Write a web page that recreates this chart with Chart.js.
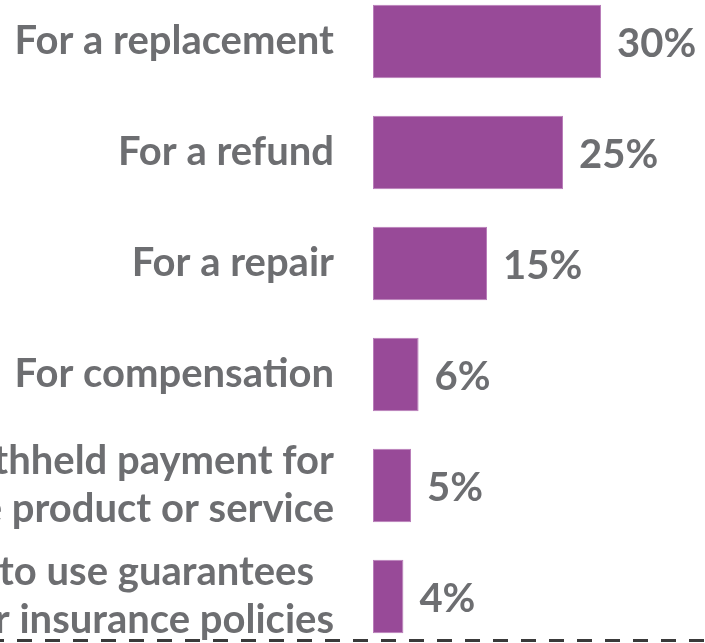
<!DOCTYPE html>
<html>
<head>
<meta charset="utf-8">
<script src="https://cdn.jsdelivr.net/npm/chart.js@4.4.1/dist/chart.umd.min.js"></script>
<style>
  html, body { margin: 0; padding: 0; background: #ffffff; overflow: hidden; width: 705px; height: 643px; }
  #wrap { position: absolute; left: -300px; top: -14px; width: 1100px; height: 666px; }
  canvas { display: block; }
</style>
</head>
<body>
<div id="wrap"><canvas id="c" width="1100" height="666"></canvas></div>
<script>
// Data
const categories = [
  ["For a replacement"],
  ["For a refund"],
  ["For a repair"],
  ["For compensation"],
  ["Withheld payment for", "the product or service"],
  ["Unable to use guarantees\u2002", "or insurance policies"]
];
const values = [30, 25, 15, 6, 5, 4];
const valueLabels = ["30%", "25%", "15%", "6%", "5%", "4%"];

const textColor = "#6d6e71";
const barColor = "#984a98";
const FONT = "Lato, 'Open Sans', sans-serif";

const valueLabelPlugin = {
  id: "valueLabels",
  afterDatasetsDraw(chart) {
    const ctx = chart.ctx;
    const meta = chart.getDatasetMeta(0);
    ctx.save();
    ctx.fillStyle = textColor;
    ctx.font = "bold 40px " + FONT;
    ctx.textAlign = "left";
    ctx.textBaseline = "middle";
    meta.data.forEach((bar, i) => {
      ctx.fillText(valueLabels[i], bar.x + 16, bar.y + 3);
    });
    ctx.restore();
  }
};

const dashedLinePlugin = {
  id: "dashedLine",
  afterDraw(chart) {
    const ctx = chart.ctx;
    const y = chart.chartArea.bottom - 11.5;
    ctx.save();
    ctx.strokeStyle = "#3a3a3a";
    ctx.lineWidth = 3;
    ctx.setLineDash([15, 13]);
    ctx.beginPath();
    ctx.moveTo(chart.chartArea.left + 8 - 28 * 40, y);
    ctx.lineTo(chart.width, y);
    ctx.stroke();
    ctx.restore();
  }
};

new Chart(document.getElementById("c"), {
  type: "bar",
  data: {
    labels: categories,
    datasets: [{
      data: values,
      backgroundColor: barColor,
      borderColor: "#b97db9",
      borderWidth: 1,
      borderSkipped: false,
      categoryPercentage: 1.0,
      barPercentage: 0.66
    }]
  },
  options: {
    indexAxis: "y",
    responsive: false,
    animation: false,
    devicePixelRatio: 1,
    layout: { autoPadding: false, padding: { left: 0, right: 123, top: 0, bottom: 0 } },
    plugins: {
      legend: { display: false },
      tooltip: { enabled: false }
    },
    scales: {
      x: {
        display: false,
        min: 0,
        max: 40
      },
      y: {
        grid: { display: false, drawTicks: false },
        border: { display: false },
        afterFit(scale) {
          scale.width = 673;
          scale.paddingTop = 0;
          scale.paddingBottom = 0;
        },
        ticks: {
          color: textColor,
          padding: 39,
          font: { family: FONT, size: 40, weight: "bold", lineHeight: 1.2 }
        }
      }
    }
  },
  plugins: [valueLabelPlugin, dashedLinePlugin]
});
</script>
</body>
</html>
